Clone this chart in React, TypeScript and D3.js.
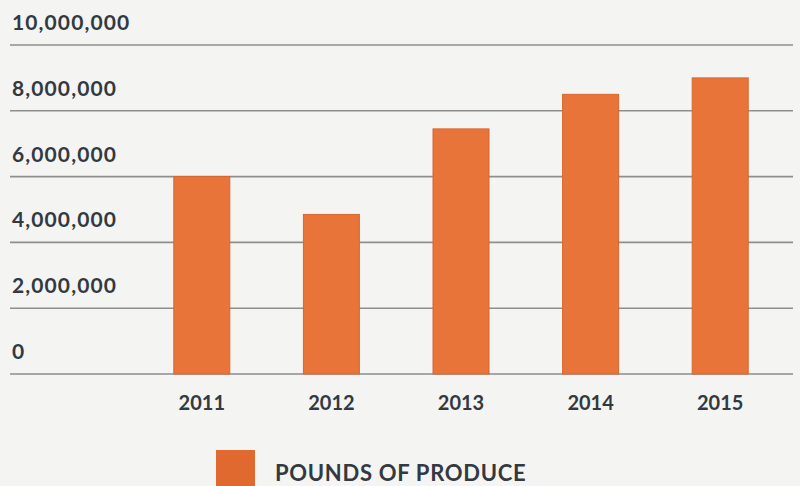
import React from "react";
import * as d3 from "d3";

const years = ["2011", "2012", "2013", "2014", "2015"];
const pounds = [6000000, 4850000, 7450000, 8500000, 9000000];
const yTicks = [0, 2000000, 4000000, 6000000, 8000000, 10000000];
const legendLabel = "POUNDS OF PRODUCE";

const W = 800;
const H = 486;
const FONT = "Lato, 'Open Sans', sans-serif";

export default function App() {
  const x = d3
    .scaleBand<string>()
    .domain(years)
    .range([137, 785])
    .paddingInner(0.568)
    .paddingOuter(0.284);
  const y = d3.scaleLinear().domain([0, 10000000]).range([374, 45]);
  const fmt = d3.format(",");

  return (
    <svg
      width={W}
      height={H}
      style={{ position: "absolute", left: 0, top: 0, display: "block" }}
    >
      <rect x={0} y={0} width={W} height={H} fill="#f4f4f3" />
      {yTicks.map((t) => (
        <g key={t}>
          <line
            x1={10}
            x2={793}
            y1={y(t)}
            y2={y(t)}
            stroke="#8e8e8e"
            strokeWidth={1.6}
          />
          <text
            x={12}
            y={y(t) - 15}
            fontFamily={FONT}
            fontWeight={700}
            fontSize={21}
            letterSpacing={1.1}
            fill="#333940"
          >
            {fmt(t)}
          </text>
        </g>
      ))}
      {years.map((yr, i) => (
        <g key={yr}>
          <rect
            x={x(yr)}
            y={y(pounds[i])}
            width={x.bandwidth()}
            height={y(0) - y(pounds[i])}
            fill="#e8743a"
            stroke="#d9662e"
            strokeWidth={1}
          />
          <text
            x={(x(yr) as number) + x.bandwidth() / 2}
            y={410}
            textAnchor="middle"
            fontFamily={FONT}
            fontWeight={700}
            fontSize={20}
            fill="#333940"
          >
            {yr}
          </text>
        </g>
      ))}
      <rect x={216} y={450} width={39} height={40} fill="#e0692f" />
      <text
        x={275}
        y={481}
        fontFamily={FONT}
        fontWeight={700}
        fontSize={22}
        letterSpacing={0.7}
        fill="#333940"
      >
        {legendLabel}
      </text>
    </svg>
  );
}
